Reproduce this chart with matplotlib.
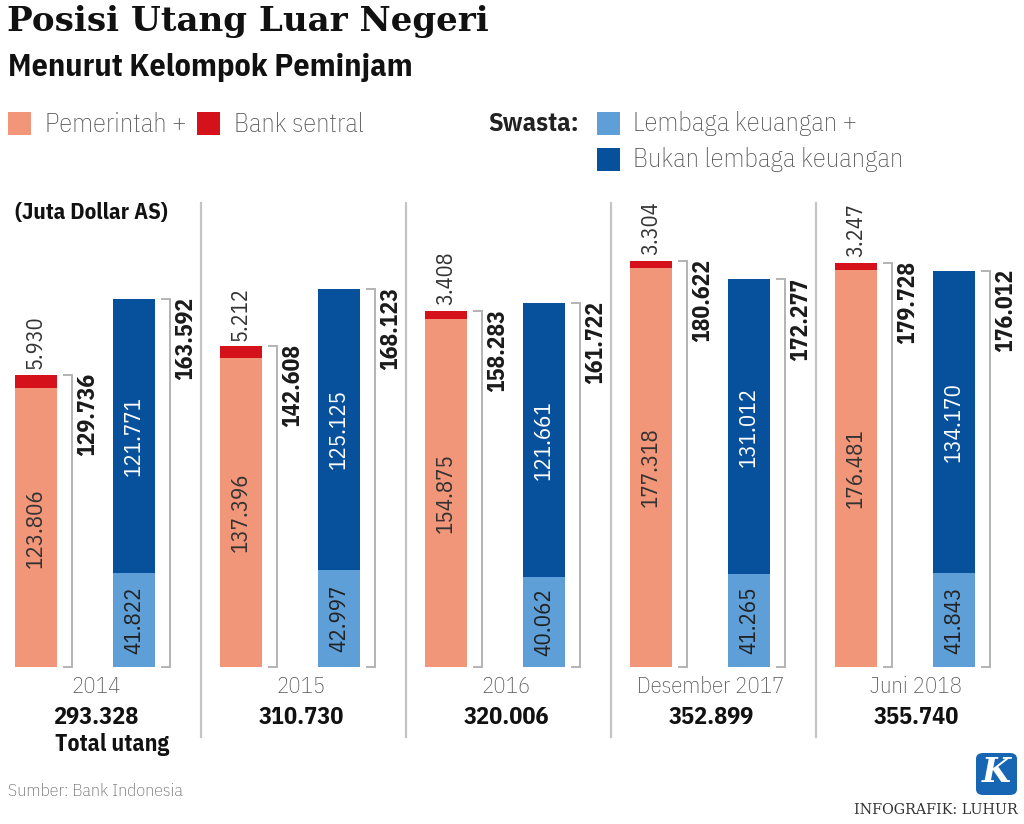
import matplotlib
matplotlib.use('Agg')
import matplotlib.pyplot as plt
from matplotlib import font_manager as fm
from matplotlib.font_manager import FontProperties
from matplotlib.patches import Rectangle, FancyBboxPatch

# ---------------- data ----------------
years = ['2014', '2015', '2016', 'Desember 2017', 'Juni 2018']
pemerintah = [123.806, 137.396, 154.875, 177.318, 176.481]
bank_sentral = [5.930, 5.212, 3.408, 3.304, 3.247]
total_pemerintah_bi = [129.736, 142.608, 158.283, 180.622, 179.728]
lembaga_keuangan = [41.822, 42.997, 40.062, 41.265, 41.843]
bukan_lembaga = [121.771, 125.125, 121.661, 131.012, 134.170]
total_swasta = [163.592, 168.123, 161.722, 172.277, 176.012]
total_utang = [293.328, 310.730, 320.006, 352.899, 355.740]

C_SALMON = '#F2967A'
C_RED = '#D5121B'
C_LBLUE = '#5E9FD8'
C_DBLUE = '#07519C'
C_GRID = '#c4c4c4'

# ---------------- fonts ----------------
names = {f.name for f in fm.fontManager.ttflist}


def pick(*cands):
    for c in cands:
        if c in names:
            return c
    return 'DejaVu Sans'


NUMF = pick('IBM Plex Sans Condensed', 'Archivo Narrow', 'Fira Sans Condensed', 'DejaVu Sans')
TSERIF = 'DejaVu Serif'


def npf(size, weight='normal'):
    return FontProperties(family=NUMF, size=size, weight=weight)


# ---------------- figure ----------------
W, H = 1024, 824
fig = plt.figure(figsize=(W / 100, H / 100), dpi=100)
fig.patch.set_facecolor('white')

GW = 205.0          # px per group
PPU = 2.25          # px per data unit
BASE = 667          # baseline pixel row
ax = fig.add_axes([0, 0, 1, 1])
ax.set_xlim(0, W / GW)
ax.set_ylim(-(H - BASE) / PPU, BASE / PPU)
ax.axis('off')


def ux(px):
    return px / GW


def uy(py):
    return (BASE - py) / PPU


gov_off = ux(36)
prv_off = ux(134)
bw = ux(42)
idx = list(range(len(years)))
gx = [i + gov_off for i in idx]
px_ = [i + prv_off for i in idx]

ax.bar(gx, pemerintah, width=bw, color=C_SALMON, linewidth=0)
ax.bar(gx, bank_sentral, bottom=pemerintah, width=bw, color=C_RED, linewidth=0)
ax.bar(px_, lembaga_keuangan, width=bw, color=C_LBLUE, linewidth=0)
ax.bar(px_, bukan_lembaga, bottom=lembaga_keuangan, width=bw, color=C_DBLUE, linewidth=0)


def fmt(v):
    return f'{v:.3f}'


def bracket(xc, top, label):
    x0 = xc + bw / 2 + ux(6)
    x1 = xc + bw / 2 + ux(15)
    ax.plot([x0, x1, x1, x0], [top, top, 0, 0], color='#b3b3b3', lw=1.4,
            solid_joinstyle='miter', solid_capstyle='butt')
    ax.text(x1 + ux(16), top + 0.8, label, rotation=90, ha='center', va='top',
            fontproperties=npf(17, 'bold'), color='#1a1a1a')


for i in idx:
    ax.text(gx[i], pemerintah[i] / 2, fmt(pemerintah[i]), rotation=90, ha='center',
            va='center', fontproperties=npf(16.5), color='#333333')
    ax.text(px_[i], lembaga_keuangan[i] / 2, fmt(lembaga_keuangan[i]), rotation=90,
            ha='center', va='center', fontproperties=npf(16.5), color='#222222')
    ax.text(px_[i], lembaga_keuangan[i] + bukan_lembaga[i] / 2, fmt(bukan_lembaga[i]),
            rotation=90, ha='center', va='center', fontproperties=npf(16.5), color='white')
    ax.text(gx[i], total_pemerintah_bi[i] + 2.5, fmt(bank_sentral[i]), rotation=90,
            ha='center', va='bottom', fontproperties=npf(16), color='#333333')
    bracket(gx[i], total_pemerintah_bi[i], fmt(total_pemerintah_bi[i]))
    bracket(px_[i], total_swasta[i], fmt(total_swasta[i]))
    cx = i + ux(96)
    ax.text(cx, uy(687), years[i], ha='center', va='center',
            fontproperties=npf(16.5, 'light'), color='#555555')
    ax.text(cx, uy(718), fmt(total_utang[i]), ha='center', va='center',
            fontproperties=npf(17.5, 'bold'), color='#111111')

for k in range(4):
    xs = k + ux(201)
    ax.plot([xs, xs], [uy(203), uy(737)], color=C_GRID, lw=1.6)

ax.text(ux(55), uy(744), 'Total utang', ha='left', va='center',
        fontproperties=npf(17, 'bold'), color='#111111')
ax.text(ux(15), uy(213), '(Juta Dollar AS)', ha='left', va='center',
        fontproperties=npf(16.5, 'bold'), color='#111111')


# ---------------- header ----------------
def fx(p):
    return p / W


def fy(p):
    return 1 - p / H


fig.text(fx(7), fy(22), 'Posisi Utang Luar Negeri', ha='left', va='center',
         family=TSERIF, weight='heavy', size=24.6, color='#111111')
fig.text(fx(8), fy(68), 'Menurut Kelompok Peminjam', ha='left', va='center',
         fontproperties=npf(23, 'bold'), color='#111111')


def sq(x, y, c):
    fig.patches.append(Rectangle((fx(x), fy(y + 23)), 23 / W, 23 / H, transform=fig.transFigure,
                                 facecolor=c, edgecolor='none'))


sq(8, 112, C_SALMON)
sq(197, 112, C_RED)
sq(597, 112, C_LBLUE)
sq(597, 148, C_DBLUE)
lp = dict(ha='left', va='center', fontproperties=npf(19, 'light'), color='#555555')
fig.text(fx(45), fy(124), 'Pemerintah +', **lp)
fig.text(fx(234), fy(124), 'Bank sentral', **lp)
fig.text(fx(633), fy(124), 'Lembaga keuangan +', **lp)
fig.text(fx(633), fy(160), 'Bukan lembaga keuangan', **lp)
fig.text(fx(488), fy(124), 'Swasta:', ha='left', va='center',
         fontproperties=npf(19, 'bold'), color='#222222')

# ---------------- footer ----------------
fig.text(fx(8), fy(791), 'Sumber: Bank Indonesia', ha='left', va='center',
         fontproperties=npf(13, 'light'), color='#666666')
fig.patches.append(FancyBboxPatch((fx(976), fy(795)), 41 / W, 42 / H,
                                  boxstyle='round,pad=0,rounding_size=0.007',
                                  transform=fig.transFigure, facecolor='#1766B3',
                                  edgecolor='none'))
fig.text(fx(996.5), fy(773), 'K', ha='center', va='center', family=TSERIF,
         style='italic', weight='bold', size=24, color='white')
fig.text(fx(1018), fy(810), 'INFOGRAFIK: LUHUR', ha='right', va='center',
         family=TSERIF, size=10.3, color='#333333')

fig.savefig('out.png', dpi=100)
